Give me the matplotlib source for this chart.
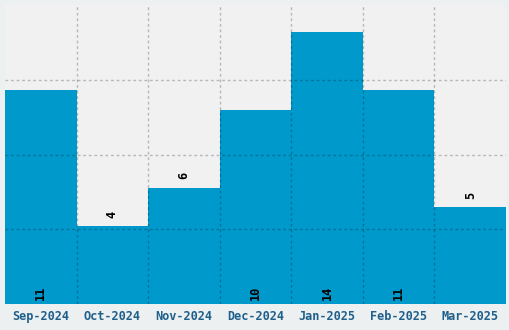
import matplotlib
matplotlib.use("Agg")
import matplotlib.pyplot as plt
import numpy as np

months = ["Sep-2024", "Oct-2024", "Nov-2024", "Dec-2024", "Jan-2025", "Feb-2025", "Mar-2025"]
counts = [11, 4, 6, 10, 14, 11, 5]
inside = [True, False, False, True, True, True, False]

fig = plt.figure(figsize=(5.1, 3.3), dpi=100, facecolor="#ecf0f1")
ax = fig.add_axes([5/510, 1 - 304/330, 501/510, 299/330])
ax.set_facecolor("#f1f1f1")

x = np.arange(len(months))
ax.bar(x, counts, width=1.0, color="#0099cc", zorder=1)

ymax = max(counts) * 1.1
ax.set_xlim(-0.5, len(months) - 0.5)
ax.set_ylim(0, ymax)
ax.set_yticks(np.linspace(0, ymax, 5)[1:-1])
ax.set_xticks(x)
ax.set_xticks(np.arange(0.5, len(months) - 1, 1.0), minor=True)
ax.set_xticklabels(months, family="DejaVu Sans Mono", fontweight="bold",
                   fontsize=8.6, color="#1f5f8b")
ax.tick_params(axis="x", which="both", length=0, pad=4)
ax.tick_params(axis="y", which="both", length=0, labelleft=False)
ax.grid(True, axis="y", color="black", alpha=0.24, linestyle=(0, (2, 2)), linewidth=1, zorder=2)
ax.grid(True, axis="x", which="minor", color="black", alpha=0.24, linestyle=(0, (2, 2)), linewidth=1, zorder=2)
ax.grid(False, axis="x", which="major")
ax.set_axisbelow(False)
for s in ax.spines.values():
    s.set_visible(False)

for xi, c, ins in zip(x, counts, inside):
    if ins:
        ax.annotate(str(c), (xi, 0), xytext=(0, 3), textcoords="offset points",
                    rotation=90, ha="center", va="bottom", family="DejaVu Sans Mono",
                    fontweight="bold", fontsize=8.6, color="black", zorder=3)
    else:
        ax.annotate(str(c), (xi, c), xytext=(0, 6), textcoords="offset points",
                    rotation=90, ha="center", va="bottom", family="DejaVu Sans Mono",
                    fontweight="bold", fontsize=8.6, color="black", zorder=3)

fig.savefig("out.png", dpi=100, facecolor=fig.get_facecolor())
